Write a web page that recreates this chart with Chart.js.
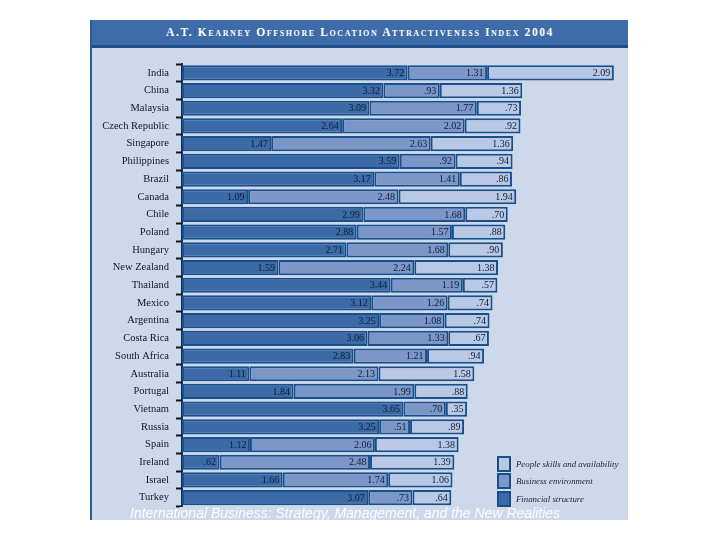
<!DOCTYPE html>
<html>
<head>
<meta charset="utf-8">
<script src="https://cdn.jsdelivr.net/npm/chart.js@4.4.0/dist/chart.umd.min.js"></script>
<style>
  body { margin: 0; background: #fff; width: 720px; height: 540px; position: relative; overflow: hidden; }
  #panel { position: absolute; left: 90px; top: 20px; width: 538px; height: 500px; background: #cdd8ea; border-left: 2px solid #2c5c98; box-sizing: border-box; }
  #title { position: absolute; left: 0; top: 0; width: 100%; height: 28px; background: #3d6ca8; border-bottom: 3px solid #1f4f8a; box-sizing: border-box;
           color: #fff; font-family: 'Liberation Serif', serif; font-weight: bold; font-size: 11.5px; letter-spacing: 1.6px; text-align: center; line-height: 24px; font-variant: small-caps; }
  #wrap { position: absolute; left: 88px; top: 48px; width: 540px; height: 472px; }
  #legend { position: absolute; left: 497px; top: 455px; font-family: 'Liberation Serif', serif; font-style: italic; font-size: 8.8px; color: #1a2238; }
  .item { height: 17.6px; display: flex; align-items: center; }
  .box { width: 10px; height: 12px; border: 2px solid #1a4f8c; margin-right: 5px; }
  #footer { position: absolute; left: 130px; top: 505px; font-family: 'Liberation Sans', Arial, sans-serif; font-style: italic; font-size: 14px; color: rgba(255,255,255,0.92); }
</style>
</head>
<body>
<div id="panel"><div id="title">A.T. Kearney Offshore Location Attractiveness Index 2004</div></div>
<div id="wrap"><canvas id="myChart"></canvas></div>
<div id="legend"></div>
<div id="footer">International Business: Strategy, Management, and the New Realities</div>
<script>
'use strict';

// countries, top to bottom
const countries = ['India', 'China', 'Malaysia', 'Czech Republic', 'Singapore', 'Philippines', 'Brazil', 'Canada',
  'Chile', 'Poland', 'Hungary', 'New Zealand', 'Thailand', 'Mexico', 'Argentina', 'Costa Rica', 'South Africa',
  'Australia', 'Portugal', 'Vietnam', 'Russia', 'Spain', 'Ireland', 'Israel', 'Turkey'];

// the three parts of the index
const financialStructure = [3.72, 3.32, 3.09, 2.64, 1.47, 3.59, 3.17, 1.09, 2.99, 2.88, 2.71, 1.59, 3.44, 3.12, 3.25, 3.06, 2.83, 1.11, 1.84, 3.65, 3.25, 1.12, 0.62, 1.66, 3.07];
const businessEnvironment = [1.31, 0.93, 1.77, 2.02, 2.63, 0.92, 1.41, 2.48, 1.68, 1.57, 1.68, 2.24, 1.19, 1.26, 1.08, 1.33, 1.21, 2.13, 1.99, 0.70, 0.51, 2.06, 2.48, 1.74, 0.73];
const peopleSkills = [2.09, 1.36, 0.73, 0.92, 1.36, 0.94, 0.86, 1.94, 0.70, 0.88, 0.90, 1.38, 0.57, 0.74, 0.74, 0.67, 0.94, 1.58, 0.88, 0.35, 0.89, 1.38, 1.39, 1.06, 0.64];

// colours
const darkBlue = '#3b6aa7';
const midBlue = '#7d96c8';
const paleBlue = '#b9c8e4';
const edgeBlue = '#17508d';

// legend, listed top to bottom as in the picture
const legendItems = [
  ['People skills and availability', paleBlue],
  ['Business environment', midBlue],
  ['Financial structure', darkBlue]
];
let legend = document.getElementById('legend');
for (let i = 0; i < legendItems.length; i++) {
  let div = document.createElement('div');
  div.className = 'item';
  div.innerHTML = '<span class="box" style="background:' + legendItems[i][1] + '"></span>' + legendItems[i][0];
  legend.appendChild(div);
}

// .93 instead of 0.93
function fmt(v) {
  let s = v.toFixed(2);
  return v < 1 ? s.slice(1) : s;
}

// numbers inside every bar segment, right aligned
const valueLabels = {
  id: 'valueLabels',
  afterDatasetsDraw(chart) {
    const ctx = chart.ctx;
    ctx.save();
    ctx.font = '10px "Liberation Serif", serif';
    ctx.fillStyle = '#131d33';
    ctx.textAlign = 'right';
    ctx.textBaseline = 'middle';
    chart.data.datasets.forEach(function (ds, i) {
      chart.getDatasetMeta(i).data.forEach(function (bar, j) {
        ctx.fillText(fmt(ds.data[j]), bar.x - 3.5, bar.y + 0.5);
      });
    });
    ctx.restore();
  }
};

function makeSet(label, data, color) {
  return {
    label: label,
    data: data,
    backgroundColor: color,
    borderColor: edgeBlue,
    borderWidth: 2,
    borderSkipped: false,
    barPercentage: 0.86,
    categoryPercentage: 1
  };
}

let config = {
  type: 'bar',
  data: {
    labels: countries,
    datasets: [
      makeSet('Financial structure', financialStructure, darkBlue),
      makeSet('Business environment', businessEnvironment, midBlue),
      makeSet('People skills and availability', peopleSkills, paleBlue)
    ]
  },
  options: {
    indexAxis: 'y',
    responsive: true,
    maintainAspectRatio: false,
    animation: false,
    layout: { padding: { top: 16, bottom: 13.5, right: 2, left: 0 } },
    plugins: { legend: { display: false }, tooltip: { enabled: false } },
    scales: {
      x: { stacked: true, display: false, min: 0, max: 7.32 },
      y: {
        stacked: true,
        afterFit: function (scale) { scale.width = 94; },
        border: { display: true, color: '#1b2b48', width: 2 },
        grid: { drawOnChartArea: false, drawTicks: true, tickLength: 6, tickColor: '#15151f', tickWidth: 2 },
        ticks: { padding: 7, color: '#15151f', font: { family: '"Liberation Serif", serif', size: 10.5 } }
      }
    }
  },
  plugins: [valueLabels]
};

const ctx = document.getElementById('myChart').getContext('2d');
const myChart = new Chart(ctx, config);
</script>
</body>
</html>
